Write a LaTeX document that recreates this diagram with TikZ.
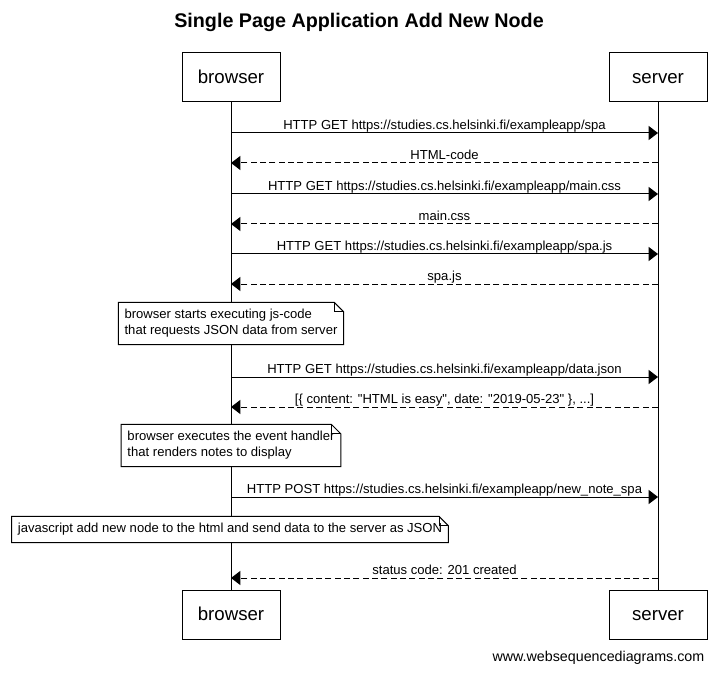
\documentclass[tikz,border=0pt]{standalone}
\usepackage{fontspec}
\setmainfont{Liberation Sans}
\usetikzlibrary{arrows.meta, positioning}
\tikzset{
  actor/.style = {draw, fill=white, line width=0.75pt, font=\fontsize{14}{16}\selectfont,
                  minimum width=73.5pt, minimum height=36.75pt, inner sep=0pt,
                  text height=10pt, text depth=0.5pt},
  life/.style  = {line width=0.75pt},
  req/.style   = {line width=0.75pt, -{Triangle[length=7pt, width=10.5pt]}},
  resp/.style  = {req, dash pattern=on 4.5pt off 2.5pt},
  lbl/.style   = {anchor=base, yshift=2.5pt, inner sep=0pt, font=\fontsize{9.8}{12}\selectfont},
  notetxt/.style = {align=left, inner xsep=4.5pt, inner ysep=5pt,
                  font=\fontsize{9.8}{12}\selectfont},
}
% note outline with folded corner
\newcommand{\notefold}[1]{%
  \fill[white] (#1.south west) rectangle (#1.north east);
  \draw[line width=0.75pt] (#1.south west) -- (#1.north west) -- ([xshift=-7pt]#1.north east)
    -- ([yshift=-7pt]#1.north east) -- (#1.south east) -- cycle;
  \draw[line width=0.75pt] ([xshift=-7pt]#1.north east) -- ([xshift=-7pt,yshift=-7pt]#1.north east)
    -- ([yshift=-7pt]#1.north east);
}

\begin{document}
\begin{tikzpicture}[x=0.75pt, y=-0.75pt]
\useasboundingbox[fill=white] (0,0) rectangle (716,673);

%% -- title --------------------------------------------------------------------
\node[font=\fontsize{14.8}{17}\selectfont\bfseries] (title) at (359,22)
  {Single Page Application Add New Node};

%% -- actors -------------------------------------------------------------------
\node[actor] (browserTop) at (231,77.5)  {browser};
\node[actor] (serverTop)  at (658,77.5)  {server};
\node[actor] (browserBot) at (231,614.5) {browser};
\node[actor] (serverBot)  at (658,614.5) {server};

%% -- lifelines ----------------------------------------------------------------
\draw[life] (browserTop) -- (browserBot);
\draw[life] (serverTop)  -- (serverBot);

%% -- message points -----------------------------------------------------------
\foreach \i/\y in {1/133, 2/163, 3/194, 4/224, 5/254, 6/284,
                   7/377, 8/407, 9/497, 10/578} {
  \coordinate (b\i) at (231,\y);
  \coordinate (s\i) at (658,\y);
}

%% -- messages -----------------------------------------------------------------
\draw[req]  (b1) -- node[lbl] {HTTP GET https://studies.cs.helsinki.fi/exampleapp/spa} (s1);
\draw[resp] (s2) -- node[lbl] {HTML-code} (b2);
\draw[req]  (b3) -- node[lbl] {HTTP GET https://studies.cs.helsinki.fi/exampleapp/main.css} (s3);
\draw[resp] (s4) -- node[lbl] {main.css} (b4);
\draw[req]  (b5) -- node[lbl] {HTTP GET https://studies.cs.helsinki.fi/exampleapp/spa.js} (s5);
\draw[resp] (s6) -- node[lbl] {spa.js} (b6);
\draw[req]  (b7) -- node[lbl] {HTTP GET https://studies.cs.helsinki.fi/exampleapp/data.json} (s7);
\draw[resp] (s8) -- node[lbl] {[\{ content: \textquotedbl HTML is easy\textquotedbl, date: \textquotedbl 2019-05-23\textquotedbl\ \}, ...]} (b8);
\draw[req]  (b9) -- node[lbl] {HTTP POST https://studies.cs.helsinki.fi/exampleapp/new\_note\_spa} (s9);
\draw[resp] (s10) -- node[lbl] {status code: 201 created} (b10);

%% -- notes --------------------------------------------------------------------
\node[notetxt] (note1) at (231,323.5)
  {browser starts executing js-code\\that requests JSON data from server};
\notefold{note1}
\node[notetxt] at (note1) {browser starts executing js-code\\that requests JSON data from server};

\node[notetxt] (note2) at (231,445.5)
  {browser executes the event handler\\that renders notes to display};
\notefold{note2}
\node[notetxt] at (note2) {browser executes the event handler\\that renders notes to display};

\node[notetxt] (note3) at (230,529.5)
  {javascript add new node to the html and send data to the server as JSON};
\notefold{note3}
\node[notetxt] at (note3) {javascript add new node to the html and send data to the server as JSON};

%% -- footer -------------------------------------------------------------------
\node[anchor=east, font=\fontsize{10.7}{12}\selectfont] (footer) at (709,658)
  {www.websequencediagrams.com};

\end{tikzpicture}
\end{document}
